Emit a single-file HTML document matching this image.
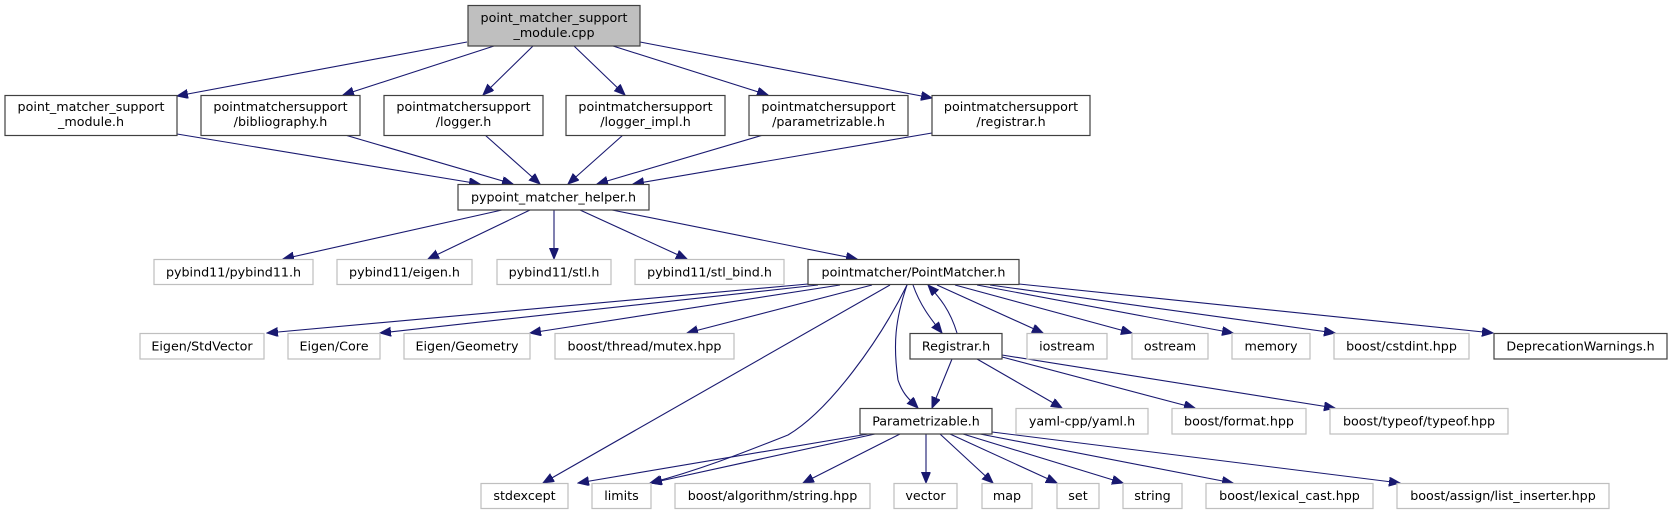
<!DOCTYPE html>
<html><head><meta charset="utf-8"><style>
html,body{margin:0;padding:0;background:#fff;}
svg{display:block;}
text{font-family:"DejaVu Sans","Liberation Sans",sans-serif;font-size:12.7px;fill:#000;text-anchor:middle;}
.b{fill:#fff;stroke:#404040;stroke-width:1.2;}
.g{fill:#fff;stroke:#bfbfbf;stroke-width:1.2;}
.r{fill:#bfbfbf;stroke:#404040;stroke-width:1.2;}
.e{fill:none;stroke:#191970;stroke-width:1.1;marker-end:url(#a);}
</style></head><body>
<svg width="1673" height="515" viewBox="0 0 1673 515" xmlns="http://www.w3.org/2000/svg">
<defs><marker id="a" markerUnits="userSpaceOnUse" markerWidth="12" markerHeight="10" refX="11" refY="4.5" orient="auto"><path d="M0,0 L11,4.5 L0,9 z" fill="#191970" stroke="#191970"/></marker></defs>

<!-- edges -->
<path class="e" d="M467,42 L177,96"/>
<path class="e" d="M494,46 L343,95"/>
<path class="e" d="M533,46 L483,95"/>
<path class="e" d="M574,46 L625,95"/>
<path class="e" d="M613,46 L768,95"/>
<path class="e" d="M640,42 L932,98"/>
<path class="e" d="M177,134 L480,184"/>
<path class="e" d="M345,135 L513,184"/>
<path class="e" d="M485,135 L540,184"/>
<path class="e" d="M623,135 L568,184"/>
<path class="e" d="M763,135 L597,184"/>
<path class="e" d="M932,133 L633,184"/>
<path class="e" d="M502,210 L283,259"/>
<path class="e" d="M530,210 L428,259"/>
<path class="e" d="M554,210 L554,259"/>
<path class="e" d="M580,210 L687,259"/>
<path class="e" d="M612,210 L857,259"/>
<path class="e" d="M808,284 L267,333"/>
<path class="e" d="M818,285 L380,333"/>
<path class="e" d="M840,285 L530,333"/>
<path class="e" d="M872,285 L687,333"/>
<path class="e" d="M890,285 L543,483"/>
<path class="e" d="M907,285 C880,340 830,410 788,435 C745,452 700,470 650,483"/>
<path class="e" d="M907,285 C895,320 893,345 898,380 C903,395 910,400 918,408"/>
<path class="e" d="M913,285 C920,305 930,318 942,333"/>
<path class="e" d="M957,333 C950,310 940,298 928,285"/>
<path class="e" d="M937,285 L1043,333"/>
<path class="e" d="M955,285 L1132,333"/>
<path class="e" d="M977,285 L1233,333"/>
<path class="e" d="M990,285 L1335,333"/>
<path class="e" d="M1019,284 L1493,333"/>
<path class="e" d="M952,359 L932,408"/>
<path class="e" d="M977,359 L1062,408"/>
<path class="e" d="M1002,357 L1195,408"/>
<path class="e" d="M1002,355 L1335,408"/>
<path class="e" d="M868,434 L578,483"/>
<path class="e" d="M875,434 L651,483"/>
<path class="e" d="M900,434 L803,483"/>
<path class="e" d="M926,434 L926,483"/>
<path class="e" d="M940,434 L993,483"/>
<path class="e" d="M950,434 L1057,483"/>
<path class="e" d="M963,434 L1123,483"/>
<path class="e" d="M980,434 L1233,483"/>
<path class="e" d="M992,432 L1400,483"/>

<!-- nodes -->
<rect class="r" x="468" y="5.5" width="172" height="40.5"/>
<text x="554" y="22">point_matcher_support</text><text x="554" y="37">_module.cpp</text>

<rect class="b" x="5" y="95.5" width="172" height="40"/>
<text x="91" y="111">point_matcher_support</text><text x="91" y="126">_module.h</text>
<rect class="b" x="201" y="95.5" width="159" height="40"/>
<text x="280.5" y="111">pointmatchersupport</text><text x="280.5" y="126">/bibliography.h</text>
<rect class="b" x="384" y="95.5" width="159" height="40"/>
<text x="463.5" y="111">pointmatchersupport</text><text x="463.5" y="126">/logger.h</text>
<rect class="b" x="566" y="95.5" width="159" height="40"/>
<text x="645.5" y="111">pointmatchersupport</text><text x="645.5" y="126">/logger_impl.h</text>
<rect class="b" x="749" y="95.5" width="159" height="40"/>
<text x="828.5" y="111">pointmatchersupport</text><text x="828.5" y="126">/parametrizable.h</text>
<rect class="b" x="932" y="95.5" width="158" height="40"/>
<text x="1011" y="111">pointmatchersupport</text><text x="1011" y="126">/registrar.h</text>

<rect class="b" x="458" y="184.5" width="191" height="25.5"/>
<text x="553.5" y="201.5">pypoint_matcher_helper.h</text>

<rect class="g" x="154" y="259.5" width="159" height="25"/><text x="233.5" y="276.5">pybind11/pybind11.h</text>
<rect class="g" x="337" y="259.5" width="135" height="25"/><text x="404.5" y="276.5">pybind11/eigen.h</text>
<rect class="g" x="497" y="259.5" width="114" height="25"/><text x="554" y="276.5">pybind11/stl.h</text>
<rect class="g" x="635" y="259.5" width="149" height="25"/><text x="709.5" y="276.5">pybind11/stl_bind.h</text>
<rect class="b" x="808" y="259.5" width="211" height="25"/><text x="913.5" y="276.5">pointmatcher/PointMatcher.h</text>

<rect class="g" x="140" y="333.5" width="124" height="25.5"/><text x="202" y="350.5">Eigen/StdVector</text>
<rect class="g" x="288" y="333.5" width="92" height="25.5"/><text x="334" y="350.5">Eigen/Core</text>
<rect class="g" x="404" y="333.5" width="126" height="25.5"/><text x="467" y="350.5">Eigen/Geometry</text>
<rect class="g" x="555" y="333.5" width="179" height="25.5"/><text x="644.5" y="350.5">boost/thread/mutex.hpp</text>
<rect class="b" x="910" y="333.5" width="92" height="25.5"/><text x="956" y="350.5">Registrar.h</text>
<rect class="g" x="1027" y="333.5" width="80" height="25.5"/><text x="1067" y="350.5">iostream</text>
<rect class="g" x="1132" y="333.5" width="76" height="25.5"/><text x="1170" y="350.5">ostream</text>
<rect class="g" x="1232" y="333.5" width="78" height="25.5"/><text x="1271" y="350.5">memory</text>
<rect class="g" x="1334" y="333.5" width="135" height="25.5"/><text x="1401.5" y="350.5">boost/cstdint.hpp</text>
<rect class="b" x="1494" y="333.5" width="173" height="25.5"/><text x="1580.5" y="350.5">DeprecationWarnings.h</text>

<rect class="b" x="860" y="408.5" width="132" height="25.5"/><text x="926" y="425.5">Parametrizable.h</text>
<rect class="g" x="1016" y="408.5" width="132" height="25.5"/><text x="1082" y="425.5">yaml-cpp/yaml.h</text>
<rect class="g" x="1172" y="408.5" width="134" height="25.5"/><text x="1239" y="425.5">boost/format.hpp</text>
<rect class="g" x="1330" y="408.5" width="178" height="25.5"/><text x="1419" y="425.5">boost/typeof/typeof.hpp</text>

<rect class="g" x="481" y="483.5" width="87" height="25"/><text x="524.5" y="500">stdexcept</text>
<rect class="g" x="592" y="483.5" width="59" height="25"/><text x="621.5" y="500">limits</text>
<rect class="g" x="675" y="483.5" width="195" height="25"/><text x="772.5" y="500">boost/algorithm/string.hpp</text>
<rect class="g" x="894" y="483.5" width="63" height="25"/><text x="925.5" y="500">vector</text>
<rect class="g" x="982" y="483.5" width="50" height="25"/><text x="1007" y="500">map</text>
<rect class="g" x="1057" y="483.5" width="42" height="25"/><text x="1078" y="500">set</text>
<rect class="g" x="1123" y="483.5" width="59" height="25"/><text x="1152.5" y="500">string</text>
<rect class="g" x="1206" y="483.5" width="167" height="25"/><text x="1289.5" y="500">boost/lexical_cast.hpp</text>
<rect class="g" x="1397" y="483.5" width="212" height="25"/><text x="1503" y="500">boost/assign/list_inserter.hpp</text>
</svg>
</body></html>
